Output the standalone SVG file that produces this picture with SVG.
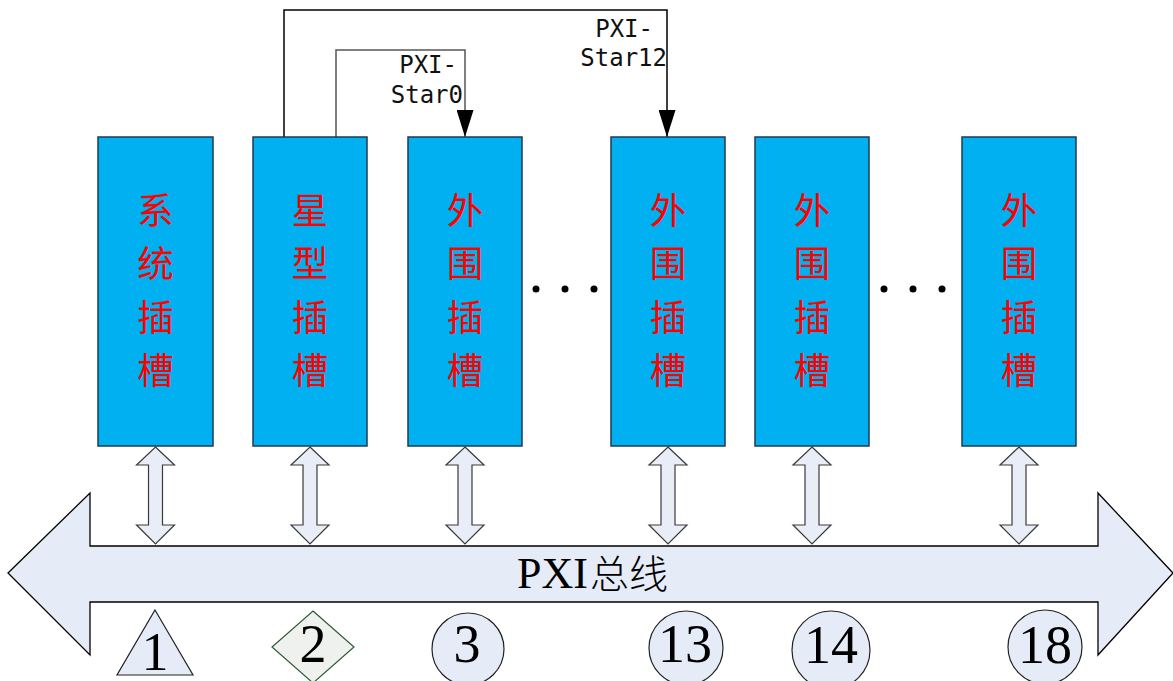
<svg xmlns="http://www.w3.org/2000/svg" width="1173" height="681" viewBox="0 0 1173 681">
  <style>
    .slot { fill: #00b0f0; stroke: #1f3a4f; stroke-width: 1.5; }
    .slot-text { font-family: "Noto Sans CJK SC", sans-serif; font-size: 36.5px; font-weight: 400; fill: #ff0000; text-anchor: middle; }
    .dbl { fill: #e8edf7; stroke: #3a3a3a; stroke-width: 1.2; }
    .bus { fill: #e6ecf7; stroke: #000; stroke-width: 1.3; }
    .mark { fill: #e6ecf7; stroke: #222; stroke-width: 1.2; }
    .num { font-family: "Liberation Serif", serif; font-size: 54px; fill: #000; text-anchor: middle; }
    .lbl { font-family: "DejaVu Sans Mono", monospace; font-size: 24px; fill: #111; text-anchor: end; }
    .wire { fill: none; stroke-width: 1.5; }
    .dot { fill: #000; }
  </style>
  <defs>
    <marker id="tipDown" markerWidth="28" markerHeight="17" refX="27" refY="8.5" orient="auto" markerUnits="userSpaceOnUse" viewBox="0 0 28 17">
      <polygon points="0,0 27,8.5 0,17" fill="#000"/>
    </marker>
    <!-- vertical double-headed arrow between a slot and the bus -->
    <path id="dblArrow" d="M0,447 L19,465 L7,465 L7,525 L19,525 L0,544 L-19,525 L-7,525 L-7,465 L-19,465 Z"/>
  </defs>

  <!-- star trigger connectors -->
  <g id="connectors">
    <path class="wire" stroke="#000" d="M284,137 L284,10 L667,10 L667,137" marker-end="url(#tipDown)"/>
    <path class="wire" stroke="#555" d="M336,137 L336,50 L465,50 L465,137" marker-end="url(#tipDown)"/>
    <use href="#dblArrow" class="dbl" x="155.5"/>
    <use href="#dblArrow" class="dbl" x="310"/>
    <use href="#dblArrow" class="dbl" x="465"/>
    <use href="#dblArrow" class="dbl" x="668"/>
    <use href="#dblArrow" class="dbl" x="812"/>
    <use href="#dblArrow" class="dbl" x="1019"/>
  </g>

  <g id="label-star0">
    <text class="lbl"><tspan x="457" y="73">PXI-</tspan><tspan x="463" y="103">Star0</tspan></text>
  </g>
  <g id="label-star12">
    <text class="lbl"><tspan x="653" y="37">PXI-</tspan><tspan x="667" y="66">Star12</tspan></text>
  </g>

  <!-- slots -->
  <g id="slot-system">
    <rect class="slot" x="98" y="137" width="115" height="309"/>
    <text class="slot-text"><tspan x="155.5" y="224">系</tspan><tspan x="155.5" y="277">统</tspan><tspan x="155.5" y="331">插</tspan><tspan x="155.5" y="384">槽</tspan></text>
  </g>
  <g id="slot-star">
    <rect class="slot" x="253" y="137" width="114" height="309"/>
    <text class="slot-text"><tspan x="310" y="224">星</tspan><tspan x="310" y="277">型</tspan><tspan x="310" y="331">插</tspan><tspan x="310" y="384">槽</tspan></text>
  </g>
  <g id="slot-p3">
    <rect class="slot" x="408" y="137" width="114" height="309"/>
    <text class="slot-text"><tspan x="465" y="224">外</tspan><tspan x="465" y="277">围</tspan><tspan x="465" y="331">插</tspan><tspan x="465" y="384">槽</tspan></text>
  </g>
  <g id="slot-p13">
    <rect class="slot" x="611" y="137" width="114" height="309"/>
    <text class="slot-text"><tspan x="668" y="224">外</tspan><tspan x="668" y="277">围</tspan><tspan x="668" y="331">插</tspan><tspan x="668" y="384">槽</tspan></text>
  </g>
  <g id="slot-p14">
    <rect class="slot" x="755" y="137" width="114" height="309"/>
    <text class="slot-text"><tspan x="812" y="224">外</tspan><tspan x="812" y="277">围</tspan><tspan x="812" y="331">插</tspan><tspan x="812" y="384">槽</tspan></text>
  </g>
  <g id="slot-p18">
    <rect class="slot" x="962" y="137" width="114" height="309"/>
    <text class="slot-text"><tspan x="1019" y="224">外</tspan><tspan x="1019" y="277">围</tspan><tspan x="1019" y="331">插</tspan><tspan x="1019" y="384">槽</tspan></text>
  </g>

  <!-- ellipsis between slots -->
  <g id="ellipsis-1">
    <circle class="dot" cx="536" cy="289" r="3.5"/>
    <circle class="dot" cx="565" cy="289" r="3.5"/>
    <circle class="dot" cx="594" cy="289" r="3.5"/>
  </g>
  <g id="ellipsis-2">
    <circle class="dot" cx="884" cy="289" r="3.5"/>
    <circle class="dot" cx="913" cy="289" r="3.5"/>
    <circle class="dot" cx="942" cy="289" r="3.5"/>
  </g>

  <!-- backplane bus -->
  <g id="bus">
    <path class="bus" d="M8,573 L90,493 L90,546 L1098,546 L1098,493 L1173,573 L1098,655 L1098,602 L90,602 L90,655 Z"/>
    <text y="588" fill="#000"><tspan x="517" font-family="Liberation Serif, serif" font-size="44">PXI</tspan><tspan font-family="Noto Sans CJK SC, sans-serif" font-size="39" font-weight="300" dx="2">总线</tspan></text>
  </g>

  <!-- slot number markers -->
  <g id="mark-1">
    <polygon class="mark" points="155,610 193,675 117,675"/>
    <text class="num" x="155" y="670">1</text>
  </g>
  <g id="mark-2">
    <polygon points="313,611 354,647 313,683 272,647" fill="#eff1ef" stroke="#2f5a35" stroke-width="1.2"/>
    <text class="num" x="313" y="662">2</text>
  </g>
  <g id="mark-3">
    <circle class="mark" cx="468" cy="649" r="36"/>
    <text class="num" x="467" y="662">3</text>
  </g>
  <g id="mark-13">
    <circle class="mark" cx="686" cy="648" r="37"/>
    <text class="num" x="685" y="662">13</text>
  </g>
  <g id="mark-14">
    <circle class="mark" cx="831" cy="650" r="39"/>
    <text class="num" x="831" y="663">14</text>
  </g>
  <g id="mark-18">
    <circle class="mark" cx="1045" cy="647" r="37"/>
    <text class="num" x="1045" y="663">18</text>
  </g>
</svg>
